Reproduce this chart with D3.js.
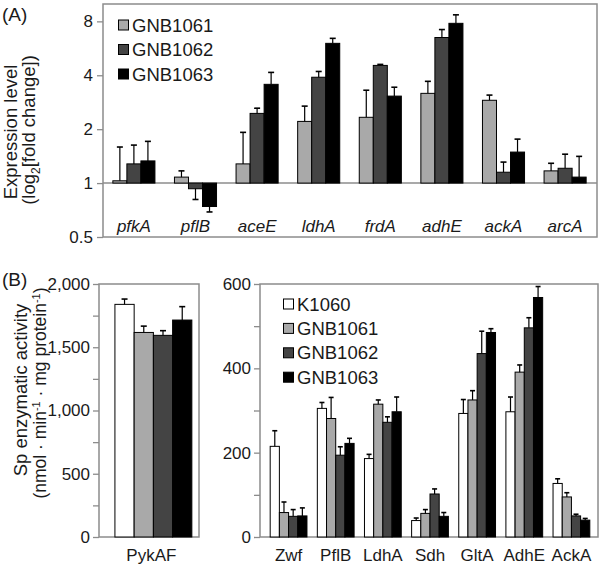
<!DOCTYPE html>
<html>
<head>
<meta charset="utf-8">
<script src="https://cdn.jsdelivr.net/npm/d3@7"></script>
<style>
  body { margin: 0; background: #fff; }
  text { font-family: "Liberation Sans", Arimo, Arial, sans-serif; fill: #1a1a1a; }
</style>
</head>
<body>
<script>
// ---------- Panel A data ----------
const genesA = ["pfkA", "pflB", "aceE", "ldhA", "frdA", "adhE", "ackA", "arcA"];
const seriesA = ["GNB1061", "GNB1062", "GNB1063"];
const valA_1061 = [1.03, 1.08, 1.28, 2.21, 2.33, 3.17, 2.90, 1.17];
const errA_1061 = [1.59, 1.17, 1.92, 2.69, 3.30, 3.70, 3.10, 1.29];
const valA_1062 = [1.28, 0.93, 2.45, 3.90, 4.54, 6.50, 1.15, 1.21];
const errA_1062 = [1.63, 0.81, 2.62, 4.20, 4.60, 7.20, 1.31, 1.45];
const valA_1063 = [1.33, 0.74, 3.56, 6.03, 3.06, 7.80, 1.49, 1.08];
const errA_1063 = [1.71, 0.69, 4.15, 6.43, 3.43, 8.70, 1.76, 1.41];
const ticksA = [0.5, 1, 2, 4, 8];

// ---------- Panel B data ----------
const seriesB = ["K1060", "GNB1061", "GNB1062", "GNB1063"];
const catsBL = ["PykAF"];
const valBL = [1839, 1617, 1594, 1715];
const errBL = [1881, 1667, 1631, 1821];
const ticksBL = [0, 250, 500, 750, 1000, 1250, 1500, 1750, 2000];

const catsBR = ["Zwf", "PflB", "LdhA", "Sdh", "GltA", "AdhE", "AckA"];
const valB_K1060   = [215, 305, 186, 39, 293, 297, 127];
const errB_K1060   = [252, 319, 196, 45, 326, 332, 138];
const valB_GNB1061 = [58, 281, 315, 56, 325, 391, 95];
const errB_GNB1061 = [83, 331, 325, 65, 347, 408, 105];
const valB_GNB1062 = [49, 194, 272, 102, 435, 496, 50];
const errB_GNB1062 = [65, 214, 285, 114, 488, 520, 54];
const valB_GNB1063 = [50, 222, 297, 49, 485, 568, 40];
const errB_GNB1063 = [69, 234, 332, 58, 494, 594, 44];
const ticksBR = [0, 100, 200, 300, 400, 500, 600];

const colors = { "K1060": "#ffffff", "GNB1061": "#a9a9a9", "GNB1062": "#444444", "GNB1063": "#000000" };
const frameColor = "#8c8c8c";

const svg = d3.select("body").append("svg").attr("width", 600).attr("height", 568);

function errorBar(g, x, y0, y1, capW) {
  g.append("line").attr("x1", x).attr("x2", x).attr("y1", y0).attr("y2", y1)
    .attr("stroke", "#000").attr("stroke-width", 1.2);
  g.append("line").attr("x1", x - capW / 2).attr("x2", x + capW / 2).attr("y1", y1).attr("y2", y1)
    .attr("stroke", "#000").attr("stroke-width", 1.6);
}

function styleAxis(g) {
  g.select(".domain").remove();
  g.selectAll(".tick line").attr("stroke", frameColor).attr("stroke-width", 1.3);
  g.selectAll(".tick text").style("font-size", "17px").attr("fill", "#1a1a1a");
}

// ================= Panel A =================
const A = { l: 103, r: 597, t: 4, b: 237 };
const xA = d3.scaleBand().domain(genesA).range([103, 596]).paddingInner(0.317).paddingOuter(0.16);
const xAin = d3.scaleBand().domain(seriesA).range([0, xA.bandwidth()]);
const yA = d3.scaleLog().base(2).domain([0.5, 10]).range([A.b, A.t]);

const gA = svg.append("g");
gA.append("rect").attr("x", A.l).attr("y", A.t).attr("width", A.r - A.l).attr("height", A.b - A.t)
  .attr("fill", "none").attr("stroke", frameColor).attr("stroke-width", 1.5);
gA.append("line").attr("x1", A.l).attr("x2", A.r).attr("y1", yA(1)).attr("y2", yA(1))
  .attr("stroke", frameColor).attr("stroke-width", 1.5);

const seriesDataA = [
  { s: "GNB1061", v: valA_1061, e: errA_1061 },
  { s: "GNB1062", v: valA_1062, e: errA_1062 },
  { s: "GNB1063", v: valA_1063, e: errA_1063 }
];
seriesDataA.forEach(sd => {
  genesA.forEach((g, i) => {
    const x = xA(g) + xAin(sd.s);
    const w = xAin.bandwidth();
    const yv = yA(sd.v[i]), y1 = yA(1);
    gA.append("rect").attr("x", x).attr("y", Math.min(yv, y1)).attr("width", w)
      .attr("height", Math.abs(yv - y1)).attr("fill", colors[sd.s])
      .attr("stroke", "#000").attr("stroke-width", 1);
    errorBar(gA, x + w / 2, yv, yA(sd.e[i]), 6);
  });
});

gA.append("g").attr("transform", `translate(${A.l},0)`)
  .call(d3.axisLeft(yA).tickValues(ticksA).tickFormat(d => d).tickSize(6).tickPadding(4))
  .call(styleAxis);

gA.selectAll(".catA").data(genesA).enter().append("text")
  .attr("x", d => xA(d) + xA.bandwidth() / 2).attr("y", 232)
  .attr("text-anchor", "middle").style("font-size", "17px").style("font-style", "italic")
  .text(d => d);

// legend A
seriesA.forEach((s, i) => {
  const cy = 25 + i * 24.5;
  gA.append("rect").attr("x", 118.5).attr("y", cy - 5).attr("width", 10).attr("height", 10)
    .attr("fill", colors[s]).attr("stroke", "#000").attr("stroke-width", 1);
  gA.append("text").attr("x", 132).attr("y", cy).attr("dy", "0.36em")
    .style("font-size", "18.5px").text(s);
});

// titles A
gA.append("text").attr("x", 2).attr("y", 21).style("font-size", "19px").text("(A)");
gA.append("text").attr("transform", "translate(17,132) rotate(-90)")
  .attr("text-anchor", "middle").style("font-size", "18.5px").text("Expression level");
const tA2 = gA.append("text").attr("transform", "translate(35,130) rotate(-90)")
  .attr("text-anchor", "middle").style("font-size", "18.5px");
tA2.append("tspan").text("(log");
tA2.append("tspan").attr("dy", 5).style("font-size", "12px").text("2");
tA2.append("tspan").attr("dy", -5).text("[fold change])");

// ================= Panel B left =================
const BL = { l: 99, r: 199, t: 284, b: 537 };
const xBL = d3.scaleBand().domain(catsBL).range([BL.l, BL.r]).paddingOuter(0.15).align(0.69);
const xBLin = d3.scaleBand().domain(seriesB).range([0, xBL.bandwidth()]);
const yBL = d3.scaleLinear().domain([0, 2000]).range([BL.b, BL.t]);

const gBL = svg.append("g");
gBL.append("rect").attr("x", BL.l).attr("y", BL.t).attr("width", BL.r - BL.l).attr("height", BL.b - BL.t)
  .attr("fill", "none").attr("stroke", frameColor).attr("stroke-width", 1.5);

seriesB.forEach((s, j) => {
  catsBL.forEach((c, i) => {
    const x = xBL(c) + xBLin(s), w = xBLin.bandwidth();
    gBL.append("rect").attr("x", x).attr("y", yBL(valBL[j])).attr("width", w)
      .attr("height", yBL(0) - yBL(valBL[j])).attr("fill", colors[s])
      .attr("stroke", "#000").attr("stroke-width", 1);
    errorBar(gBL, x + w / 2, yBL(valBL[j]), yBL(errBL[j]), 6);
  });
});

gBL.append("g").attr("transform", `translate(${BL.l},0)`)
  .call(d3.axisLeft(yBL).tickValues(ticksBL).tickFormat(d => d % 500 === 0 ? d3.format(",")(d) : "")
    .tickSize(6).tickPadding(3))
  .call(styleAxis);

gBL.append("text").attr("x", xBL("PykAF") + xBL.bandwidth() / 2 - 2).attr("y", 561)
  .attr("text-anchor", "middle").style("font-size", "17px").text("PykAF");

gBL.append("text").attr("x", 2).attr("y", 286).style("font-size", "19px").text("(B)");
gBL.append("text").attr("transform", "translate(27,390) rotate(-90)")
  .attr("text-anchor", "middle").style("font-size", "18.5px").text("Sp enzymatic activity");
const tB2 = gBL.append("text").attr("transform", "translate(46,393) rotate(-90)")
  .attr("text-anchor", "middle").style("font-size", "17.5px");
tB2.append("tspan").text("(nmol · min");
tB2.append("tspan").attr("dy", -6).style("font-size", "11px").text("-1");
tB2.append("tspan").attr("dy", 6).text(" · mg protein");
tB2.append("tspan").attr("dy", -6).style("font-size", "11px").text("-1");
tB2.append("tspan").attr("dy", 6).text(")");

// ================= Panel B right =================
const BR = { l: 260, r: 598, t: 284, b: 537 };
const xBR = d3.scaleBand().domain(catsBR).range([265, 595]).paddingInner(0.22).paddingOuter(0.11);
const xBRin = d3.scaleBand().domain(seriesB).range([0, xBR.bandwidth()]);
const yBR = d3.scaleLinear().domain([0, 600]).range([BR.b, BR.t]);

const gBR = svg.append("g");
gBR.append("rect").attr("x", BR.l).attr("y", BR.t).attr("width", BR.r - BR.l).attr("height", BR.b - BR.t)
  .attr("fill", "none").attr("stroke", frameColor).attr("stroke-width", 1.5);

const seriesDataB = [
  { s: "K1060", v: valB_K1060, e: errB_K1060 },
  { s: "GNB1061", v: valB_GNB1061, e: errB_GNB1061 },
  { s: "GNB1062", v: valB_GNB1062, e: errB_GNB1062 },
  { s: "GNB1063", v: valB_GNB1063, e: errB_GNB1063 }
];
seriesDataB.forEach(sd => {
  catsBR.forEach((c, i) => {
    const x = xBR(c) + xBRin(sd.s), w = xBRin.bandwidth();
    gBR.append("rect").attr("x", x).attr("y", yBR(sd.v[i])).attr("width", w)
      .attr("height", yBR(0) - yBR(sd.v[i])).attr("fill", colors[sd.s])
      .attr("stroke", "#000").attr("stroke-width", 1);
    errorBar(gBR, x + w / 2, yBR(sd.v[i]), yBR(sd.e[i]), 5);
  });
});

gBR.append("g").attr("transform", `translate(${BR.l},0)`)
  .call(d3.axisLeft(yBR).tickValues(ticksBR).tickFormat(d => d % 200 === 0 ? d : "")
    .tickSize(6).tickPadding(3))
  .call(styleAxis);

gBR.selectAll(".catB").data(catsBR).enter().append("text")
  .attr("x", d => xBR(d) + xBR.bandwidth() / 2).attr("y", 561)
  .attr("text-anchor", "middle").style("font-size", "17px").text(d => d);

seriesB.forEach((s, i) => {
  const cy = 304 + i * 24.4;
  gBR.append("rect").attr("x", 283.5).attr("y", cy - 5).attr("width", 10).attr("height", 10)
    .attr("fill", colors[s]).attr("stroke", "#000").attr("stroke-width", 1);
  gBR.append("text").attr("x", 297).attr("y", cy).attr("dy", "0.36em")
    .style("font-size", "18.5px").text(s);
});
</script>
</body>
</html>
